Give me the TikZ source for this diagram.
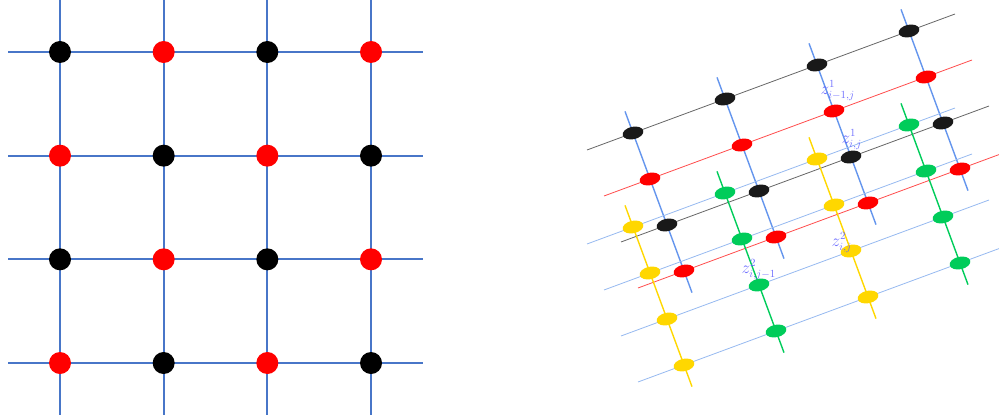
\documentclass[tikz,border=0pt]{standalone}
\usetikzlibrary{calc,positioning,shapes.geometric}
\definecolor{gridblue}{RGB}{72,118,200}
\definecolor{lineblue}{RGB}{100,149,237}
\definecolor{paleblue}{RGB}{150,185,240}
\definecolor{dotgreen}{RGB}{0,204,90}
\definecolor{dotyellow}{RGB}{255,215,0}
\definecolor{dotblack}{RGB}{25,25,25}
\definecolor{labelblue}{RGB}{95,95,255}
\tikzset{
  gridline/.style={gridblue,line width=2pt},
  rounddot/.style={circle,inner sep=0pt,minimum size=22pt},
  flatdot/.style={ellipse,inner sep=0pt,minimum width=21pt,minimum height=12.5pt,rotate=12},
  colline/.style={line width=1.4pt},
  rowline/.style={line width=0.8pt},
  zlabel/.style={inner sep=0pt,text=labelblue,text opacity=0.9,font=\fontsize{16}{18}\selectfont}
}
\begin{document}
\begin{tikzpicture}[x=1pt,y=-1pt]
  \useasboundingbox (0,0) rectangle (999,419);
  % flat lattice, checkerboard colouring
  \begin{scope}[shift={(60pt,-52pt)},x={(103.67pt,0pt)},y={(0pt,-103.67pt)}]
    \foreach \i in {0,...,3}
      \foreach \j in {0,...,3}
        \coordinate (g-\i-\j) at (\i,\j);
    \foreach \i in {0,...,3} {
      \draw[gridline] ($(g-\i-0)!-0.5!(g-\i-1)$) -- ($(g-\i-3)!-0.5!(g-\i-2)$);
      \draw[gridline] ($(g-0-\i)!-0.5!(g-1-\i)$) -- ($(g-3-\i)!-0.5!(g-2-\i)$);
    }
    \foreach \i in {0,...,3}
      \foreach \j in {0,...,3} {
        \pgfmathtruncatemacro\k{mod(\i+\j,2)}
        \ifnum\k=1 \def\dotcol{red}\else\def\dotcol{black}\fi
        \node[rounddot,fill=\dotcol] (p-\i-\j) at (g-\i-\j) {};
      }
  \end{scope}
  % skewed lattice, back layer
  \begin{scope}[shift={(633pt,-133pt)},x={(92pt,34pt)},y={(17pt,-46pt)}]
    \foreach \i in {0,...,3}
      \foreach \j in {0,...,3}
        \coordinate (a-\i-\j) at (\i,\j);
    \foreach \i in {0,...,3}
      \draw[colline,lineblue] ($(a-\i-0)!-0.47!(a-\i-1)$) -- ($(a-\i-3)!-0.47!(a-\i-2)$);
    \foreach \j/\c in {0/black!60,1/red!70,2/black!60,3/red!70}
      \draw[rowline,\c] ($(a-0-\j)!-0.5!(a-1-\j)$) -- ($(a-3-\j)!-0.5!(a-2-\j)$);
    \foreach \j/\c in {0/dotblack,1/red,2/dotblack,3/red}
      \foreach \i in {0,...,3}
        \node[flatdot,fill=\c] (pa-\i-\j) at (a-\i-\j) {};
  \end{scope}
  % skewed lattice, front layer
  \begin{scope}[shift={(633pt,-227pt)},x={(92pt,34pt)},y={(17pt,-46pt)}]
    \foreach \i in {0,...,3}
      \foreach \j in {0,...,3}
        \coordinate (b-\i-\j) at (\i,\j);
    \foreach \j in {0,...,3}
      \draw[rowline,paleblue] ($(b-0-\j)!-0.5!(b-1-\j)$) -- ($(b-3-\j)!-0.5!(b-2-\j)$);
    \foreach \i/\c in {0/dotyellow,1/dotgreen,2/dotyellow,3/dotgreen} {
      \draw[colline,\c] ($(b-\i-0)!-0.47!(b-\i-1)$) -- ($(b-\i-3)!-0.47!(b-\i-2)$);
      \foreach \j in {0,...,3}
        \node[flatdot,fill=\c] (pb-\i-\j) at (b-\i-\j) {};
    }
  \end{scope}
  % labels
  \node[zlabel,above=4pt of pa-2-1,xshift=5pt] (z1up) {$z^1_{i-1,j}$};
  \node[zlabel,above=1pt of pa-2-2,xshift=2pt] (z1ij) {$z^1_{i,j}$};
  \node[zlabel,above=-8pt of pb-2-2,xshift=-8pt] (z2ij) {$z^2_{i,j}$};
  \node[zlabel,above=-1pt of pb-1-2,xshift=1pt] (z2left) {$z^2_{i,j-1}$};
\end{tikzpicture}
\end{document}
